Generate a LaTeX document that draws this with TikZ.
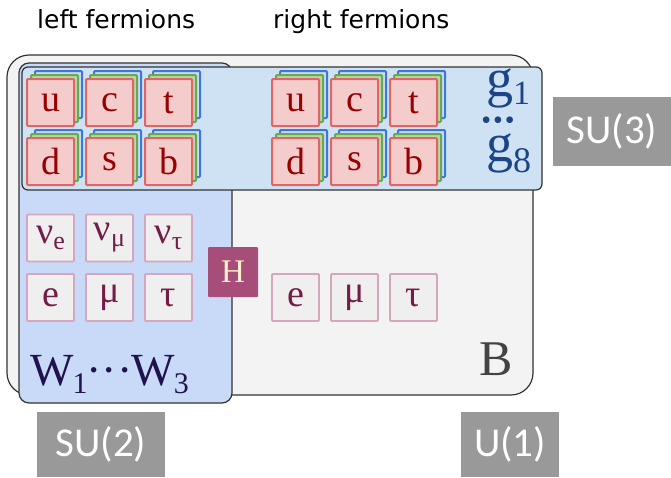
\documentclass[tikz,border=0pt]{standalone}
\usepackage{fontspec}
\setmainfont{Liberation Serif}
\newfontfamily\labfont{DejaVu Sans}
\newfontfamily\grpfont{Carlito}
\definecolor{outerf}{HTML}{F3F3F3}
\definecolor{sutwof}{HTML}{C9DAF8}
\definecolor{suthreef}{HTML}{CFE2F3}
\definecolor{qred}{HTML}{E06666}
\definecolor{qredf}{HTML}{F4CCCC}
\definecolor{qgreen}{HTML}{6AA84F}
\definecolor{qgreenf}{HTML}{B6D7A8}
\definecolor{qblue}{HTML}{3C78D8}
\definecolor{qbluef}{HTML}{C9DAF8}
\definecolor{qtext}{HTML}{990000}
\definecolor{lepd}{HTML}{D5A6BD}
\definecolor{lepf}{HTML}{EFEFEF}
\definecolor{leptext}{HTML}{741B47}
\definecolor{gcol}{HTML}{1C4587}
\definecolor{wcol}{HTML}{20124D}
\definecolor{hfill}{HTML}{A64D79}
\definecolor{htext}{HTML}{FFF2CC}
\definecolor{bcol}{HTML}{434343}
\definecolor{grp}{HTML}{999999}
\newcommand\lsub[1]{\raisebox{-6pt}{\fontsize{26}{26}\selectfont #1}}
\newcommand\bigsub[3]{\raisebox{-#1}{\fontsize{#3}{#3}\selectfont #2}}
\newcommand\qstack[4]{%
  \node[qback, draw=qblue, fill=qbluef] (#1b) at (#2+8,#3-8) {};
  \node[qback, draw=qgreen, fill=qgreenf] (#1g) at (#2+4,#3-4) {};
  \node[quark] (#1) at (#2,#3) {#4};}
\begin{document}
\begin{tikzpicture}[x=1pt,y=-1pt,
  frame/.style={draw=black!80, line width=1.2pt},
  qback/.style={line width=2pt, minimum size=47pt, inner sep=0pt, rounded corners=1pt},
  quark/.style={draw=qred, fill=qredf, line width=2pt, minimum size=47pt, inner sep=0pt,
     rounded corners=1pt, text=qtext, font=\fontsize{38}{38}\selectfont},
  lep/.style={draw=lepd, fill=lepf, line width=1.8pt, minimum size=47pt, inner sep=0pt,
     rounded corners=1pt, text=leptext, font=\fontsize{38}{38}\selectfont},
  gtext/.style={anchor=base west, inner sep=0pt, text=gcol, text height=25pt, text depth=12pt,
     font=\fontsize{54}{54}\selectfont},
  grplab/.style={fill=grp, text=white, inner sep=0pt, font=\grpfont\fontsize{41}{41}\selectfont},
  toplab/.style={anchor=base west, inner sep=0pt, font=\labfont\fontsize{25}{25}\selectfont}]
\useasboundingbox (0,0) rectangle (671,477);
% frames
\draw[frame, fill=outerf, rounded corners=22pt] (7,55) rectangle (533,395);
\draw[frame, fill=sutwof, rounded corners=10pt] (19,63) rectangle (232,403);
\draw[frame, fill=suthreef, rounded corners=6pt] (22,67) rectangle (542,190);
% quarks
\qstack{uL}{50.5}{102.5}{u}
\qstack{cL}{109.5}{102.5}{c}
\qstack{tL}{168.5}{102.5}{t}
\qstack{dL}{50.5}{161.5}{d}
\qstack{sL}{109.5}{161.5}{s}
\qstack{bL}{168.5}{161.5}{b}
\qstack{uR}{295.5}{102.5}{u}
\qstack{cR}{354.5}{102.5}{c}
\qstack{tR}{413.5}{102.5}{t}
\qstack{dR}{295.5}{161.5}{d}
\qstack{sR}{354.5}{161.5}{s}
\qstack{bR}{413.5}{161.5}{b}
% gluons
\node[gtext] (g1) at (486,96) {g\bigsub{8pt}{1}{34}};
\node[anchor=base, inner sep=0pt, text=gcol, text height=12pt, text depth=0pt,
  font=\fontsize{28}{28}\selectfont] (gdots) at (498,129) {•\kern2pt•\kern2pt•};
\node[gtext] (g8) at (486,161) {g\bigsub{11pt}{8}{36}};
% leptons
\node[lep] (nue) at (50.5,238) {ν\lsub{e}};
\node[lep] (num) at (109.5,238) {ν\lsub{μ}};
\node[lep] (nut) at (168.5,238) {ν\lsub{τ}};
\node[lep] (eL) at (50.5,297.5) {e};
\node[lep] (muL) at (109.5,297.5) {μ};
\node[lep] (tauL) at (168.5,297.5) {τ};
\node[lep] (eR) at (295.5,297.5) {e};
\node[lep] (muR) at (354.5,297.5) {μ};
\node[lep] (tauR) at (413.5,297.5) {τ};
% Higgs
\node[fill=hfill, text=htext, minimum size=50pt, inner sep=0pt, rounded corners=1pt,
  font=\fontsize{33}{33}\selectfont] (H) at (233,272) {H};
% bosons
\node[anchor=base west, inner sep=0pt, text=wcol, font=\fontsize{46}{46}\selectfont] (W) at (30,385)
  {W\kern-1pt\bigsub{8pt}{1}{30}\kern-1pt···\kern-1pt W\kern-1pt\bigsub{8pt}{3}{30}};
\node[anchor=base west, inner sep=0pt, text=bcol, font=\fontsize{50}{50}\selectfont] (B) at (479,375) {B};
% labels
\node[toplab] (left) at (37,28) {left fermions};
\node[toplab] (right) at (273,28) {right fermions};
\node[grplab, minimum width=118pt, minimum height=69pt] (su3) at (612,131.5) {SU(3)};
\node[grplab, minimum width=128pt, minimum height=65pt] (su2) at (101,444.5) {SU(2)};
\node[grplab, minimum width=98pt, minimum height=65pt] (u1) at (510,444.5) {U(1)};
\end{tikzpicture}
\end{document}
